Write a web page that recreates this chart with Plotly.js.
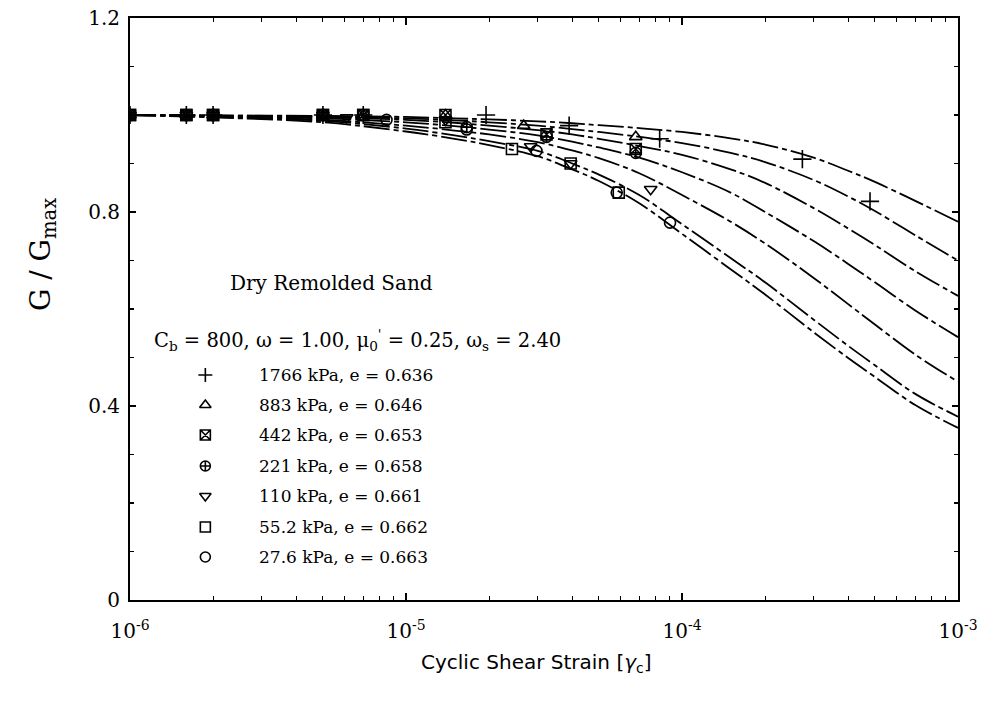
<!DOCTYPE html>
<html>
<head>
<meta charset="utf-8">
<script src="https://cdn.plot.ly/plotly-3.0.1.min.js"></script>
<style>html,body{margin:0;padding:0;background:#fff;}#chart{width:984px;height:713px;}</style>
</head>
<body>
<div id="chart"></div>
<script>
// Model curve strains (x) and G/Gmax, one array per curve (top to bottom)
const curveStrain = [1e-6, 2e-6, 5e-6, 1e-5, 1.5e-5, 2e-5, 3e-5, 4e-5, 5e-5, 7e-5, 1e-4, 1.5e-4, 2e-4, 3e-4, 4e-4, 5e-4, 7e-4, 1e-3];
const curve1 = [1.0, 0.999, 0.998, 0.996, 0.993, 0.991, 0.987, 0.983, 0.979, 0.973, 0.965, 0.952, 0.939, 0.912, 0.885, 0.862, 0.823, 0.780];
const curve2 = [1.0, 0.999, 0.997, 0.993, 0.989, 0.985, 0.978, 0.971, 0.965, 0.955, 0.942, 0.922, 0.903, 0.866, 0.832, 0.802, 0.752, 0.700];
const curve3 = [1.0, 0.998, 0.995, 0.990, 0.984, 0.978, 0.969, 0.960, 0.951, 0.936, 0.918, 0.888, 0.860, 0.808, 0.766, 0.732, 0.678, 0.627];
const curve4 = [1.0, 0.998, 0.993, 0.985, 0.977, 0.970, 0.958, 0.945, 0.933, 0.912, 0.882, 0.840, 0.800, 0.740, 0.693, 0.655, 0.597, 0.542];
const curve5 = [1.0, 0.997, 0.990, 0.978, 0.968, 0.960, 0.944, 0.927, 0.911, 0.880, 0.835, 0.780, 0.735, 0.664, 0.610, 0.568, 0.506, 0.450];
const curve6 = [1.0, 0.996, 0.988, 0.972, 0.958, 0.946, 0.926, 0.900, 0.877, 0.835, 0.775, 0.705, 0.655, 0.578, 0.524, 0.484, 0.425, 0.378];
const curve7 = [1.0, 0.995, 0.985, 0.966, 0.951, 0.938, 0.915, 0.888, 0.864, 0.818, 0.755, 0.682, 0.630, 0.552, 0.499, 0.460, 0.402, 0.355];

// Test data
const s1766_x = [1e-6, 1.6e-6, 2e-6, 5e-6, 7e-6, 1.95e-5, 3.9e-5, 8.3e-5, 2.73e-4, 4.8e-4];
const s1766_y = [1, 1, 1, 1, 1, 1.0, 0.978, 0.951, 0.909, 0.822];
const s883_x = [1e-6, 1.6e-6, 2e-6, 5e-6, 7e-6, 1.39e-5, 2.67e-5, 6.8e-5];
const s883_y = [1, 1, 1, 1, 1, 1.0, 0.978, 0.955];
const s442_x = [1e-6, 1.6e-6, 2e-6, 5e-6, 7e-6, 1.39e-5, 3.23e-5, 6.8e-5];
const s442_y = [1, 1, 1, 1, 1, 1.0, 0.96, 0.93];
const s221_x = [1e-6, 1.6e-6, 2e-6, 5e-6, 7e-6, 1.66e-5, 3.23e-5, 6.8e-5];
const s221_y = [1, 1, 1, 1, 1, 0.975, 0.955, 0.922];
const s110_x = [1e-6, 1.6e-6, 2e-6, 5e-6, 6.1e-6, 1.39e-5, 2.83e-5, 3.95e-5, 7.7e-5];
const s110_y = [1, 1, 1, 1, 0.995, 0.99, 0.935, 0.9, 0.847];
const s55_x = [1e-6, 1.6e-6, 2e-6, 5e-6, 7e-6, 1.39e-5, 2.42e-5, 3.95e-5, 5.9e-5];
const s55_y = [1, 1, 1, 1, 1, 0.985, 0.93, 0.9, 0.84];
const s27_x = [1e-6, 1.6e-6, 2e-6, 5e-6, 8.5e-6, 1.66e-5, 2.97e-5, 5.8e-5, 9.05e-5];
const s27_y = [1, 1, 1, 1, 0.99, 0.97, 0.926, 0.84, 0.778];

const legendLabels = ["1766 kPa, e = 0.636", "883 kPa, e = 0.646", "442 kPa, e = 0.653",
  "221 kPa, e = 0.658", "110 kPa, e = 0.661", "55.2 kPa, e = 0.662", "27.6 kPa, e = 0.663"];
const legendSymbols = ["cross-thin-open", "triangle-up-open", "square-x-open", "circle-cross-open",
  "triangle-down-open", "square-open", "circle-open"];

// Tick positions: labelled decades; unlabelled 2..9 minor positions on an overlay axis
const decades = [1e-6, 1e-5, 1e-4, 1e-3];
const decadeText = ["10<sup>-6</sup>", "10<sup>-5</sup>", "10<sup>-4</sup>", "10<sup>-3</sup>"];
const minorMult = [2, 3, 4, 5, 6, 7, 8, 9];
const yTickVals = [0, 0.4, 0.8, 1.2];
const yTickText = ["0", "0.4", "0.8", "1.2"];

const xMinorVals = [];
decades.slice(0, -1).forEach(d => minorMult.forEach(m => xMinorVals.push(d * m)));

const SERIF = "DejaVu Serif";
const curves = [curve1, curve2, curve3, curve4, curve5, curve6, curve7];
const traces = [];
curves.forEach(c => traces.push({
  x: curveStrain, y: c, type: 'scatter', mode: 'lines',
  line: {color: '#000', width: 1.8, dash: '26px,4px,5px,4px', shape: 'spline', smoothing: 1},
  showlegend: false, hoverinfo: 'skip'
}));
const series = [[s1766_x, s1766_y], [s883_x, s883_y], [s442_x, s442_y], [s221_x, s221_y],
  [s110_x, s110_y], [s55_x, s55_y], [s27_x, s27_y]];
series.forEach((s, i) => traces.push({
  x: s[0], y: s[1], type: 'scatter', mode: 'markers',
  marker: {symbol: legendSymbols[i], size: legendSymbols[i] === 'cross-thin-open' ? 13 : 11,
    color: '#000', line: {color: '#000', width: 1.6}},
  showlegend: false, hoverinfo: 'skip'
}));
// empty trace so the minor-tick overlay axis is drawn
traces.push({x: [], y: [], xaxis: 'x3', yaxis: 'y', type: 'scatter', mode: 'markers', showlegend: false, hoverinfo: 'skip'});

// Manual legend in an overlay frame (fractions of plot area)
const legX = 0.091, legTextX = 0.153;
const legRowsPx = [375, 405, 435, 466, 496, 527, 557];
const legY = legRowsPx.map(p => (600 - p) / 582);
traces.push({
  x: legY.map(() => legX), y: legY, xaxis: 'x2', yaxis: 'y2', type: 'scatter', mode: 'markers',
  marker: {symbol: legendSymbols, size: 10, color: '#000', line: {color: '#000', width: 1.6}},
  showlegend: false, hoverinfo: 'skip'
});

const annotations = legendLabels.map((t, i) => ({
  xref: 'x2', yref: 'y2', x: legTextX, y: legY[i], text: t, showarrow: false,
  xanchor: 'left', yanchor: 'middle', font: {family: SERIF, size: 17, color: '#000'}
}));
annotations.push({
  xref: 'x2', yref: 'y2', x: (331 - 130) / 828, y: (600 - 283) / 582, text: 'Dry Remolded Sand',
  showarrow: false, xanchor: 'center', yanchor: 'middle', font: {family: SERIF, size: 20, color: '#000'}
});
annotations.push({
  xref: 'x2', yref: 'y2', x: (152 - 130) / 828, y: (600 - 340) / 582,
  text: "C<sub>b</sub> = 800, ω = 1.00, μ<sub>0</sub><sup>'</sup> = 0.25, ω<sub>s</sub> = 2.40",
  showarrow: false, xanchor: 'left', yanchor: 'middle', font: {family: SERIF, size: 19.5, color: '#000'}
});
// Axis titles placed as annotations (paper coords)
annotations.push({
  xref: 'paper', yref: 'paper', x: -88 / 828, y: (600 - 255) / 582, text: 'G / G<sub>max</sub>',
  textangle: -90, showarrow: false, xanchor: 'center', yanchor: 'middle',
  font: {family: SERIF, size: 28, color: '#000'}
});
annotations.push({
  xref: 'paper', yref: 'paper', x: (536 - 130) / 828, y: (600 - 663) / 582,
  text: 'Cyclic Shear Strain [<i>γ</i><sub>c</sub>]', showarrow: false, xanchor: 'center', yanchor: 'middle',
  font: {family: 'DejaVu Sans', size: 20, color: '#000'}
});

const layout = {
  width: 984, height: 713,
  margin: {l: 130, r: 26, t: 18, b: 113},
  paper_bgcolor: '#fff', plot_bgcolor: '#fff',
  showlegend: false,
  xaxis: {
    type: 'log', range: [-6, -3], tickvals: decades, ticktext: decadeText, tickmode: 'array',
    tickangle: 0, automargin: false,
    ticks: 'inside', ticklen: 7, tickcolor: '#000', tickwidth: 1.2, ticklabelstandoff: 12,
    showline: true, linecolor: '#000', linewidth: 2, mirror: 'ticks', showgrid: false, zeroline: false,
    tickfont: {family: SERIF, size: 20, color: '#000'}
  },
  xaxis3: {
    type: 'log', range: [-6, -3], overlaying: 'x', anchor: 'y', tickmode: 'array', tickvals: xMinorVals,
    showticklabels: false, ticks: 'inside', ticklen: 4, tickcolor: '#000', tickwidth: 1,
    showline: false, mirror: 'ticks', showgrid: false, zeroline: false, automargin: false, fixedrange: true
  },
  yaxis: {
    range: [0, 1.2], tickvals: yTickVals, ticktext: yTickText, automargin: false,
    ticks: 'inside', ticklen: 6, tickcolor: '#000', tickwidth: 1.2, ticklabelstandoff: 4,
    minor: {dtick: 0.1, ticks: 'inside', ticklen: 4, tickcolor: '#000', showgrid: false},
    showline: true, linecolor: '#000', linewidth: 2, mirror: 'ticks', showgrid: false, zeroline: false,
    tickfont: {family: SERIF, size: 20, color: '#000'}
  },
  xaxis2: {overlaying: 'x', anchor: 'y2', range: [0, 1], visible: false, fixedrange: true},
  yaxis2: {overlaying: 'y', anchor: 'x2', range: [0, 1], visible: false, fixedrange: true},
  annotations: annotations
};

Plotly.newPlot('chart', traces, layout, {staticPlot: true, displayModeBar: false});
</script>
</body>
</html>
